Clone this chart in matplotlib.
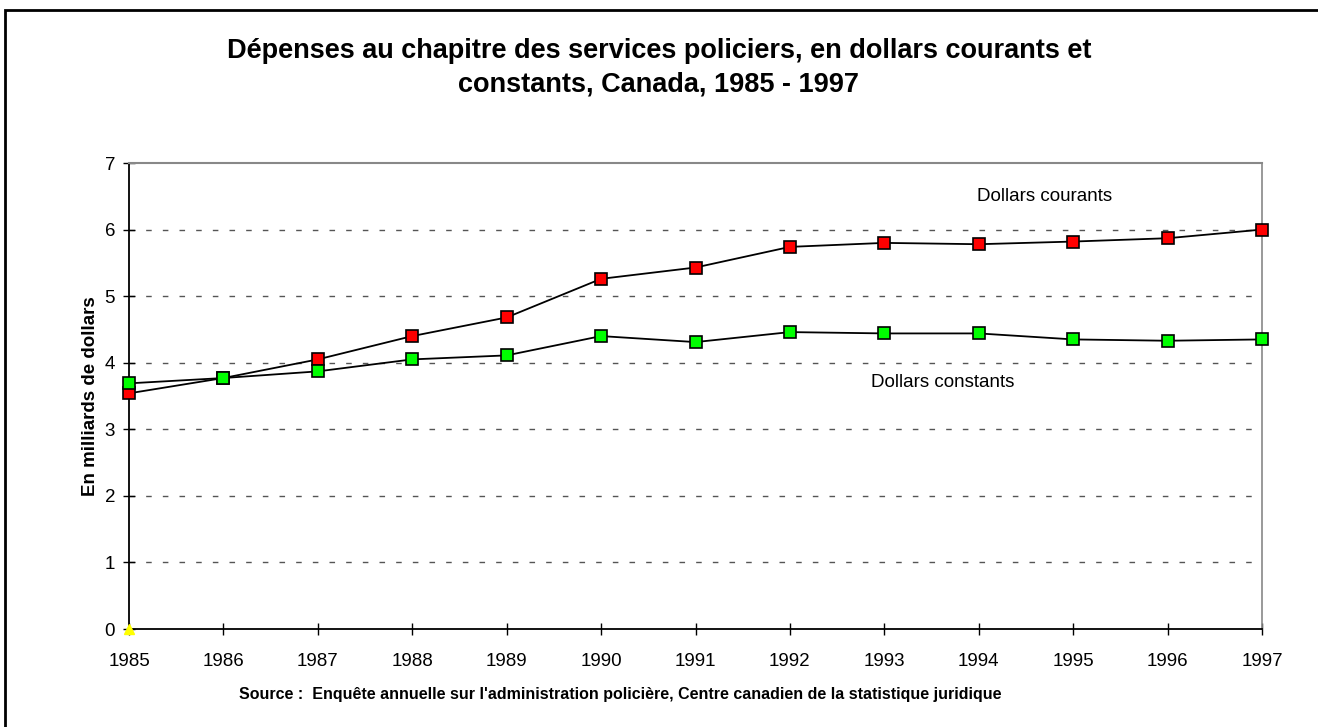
import matplotlib
matplotlib.use('Agg')
import matplotlib.pyplot as plt
from matplotlib.patches import Rectangle

plt.rcParams['font.family'] = ['Liberation Sans', 'DejaVu Sans']

years = [1985, 1986, 1987, 1988, 1989, 1990, 1991, 1992, 1993, 1994, 1995, 1996, 1997]
courants = [3.54, 3.77, 4.05, 4.40, 4.68, 5.26, 5.43, 5.74, 5.80, 5.78, 5.82, 5.87, 6.00]
constants = [3.69, 3.77, 3.87, 4.05, 4.11, 4.40, 4.31, 4.46, 4.44, 4.44, 4.35, 4.33, 4.35]

W, H = 1318, 727
fig = plt.figure(figsize=(W / 100, H / 100), dpi=100)
ax = fig.add_axes([129 / W, 1 - 629 / H, (1262 - 129) / W, (629 - 163) / H])

# outer frame (only left and top show in the original)
fig.patches.append(Rectangle((5 / W, -0.05), 1.2, 1 - 10 / H + 0.05, transform=fig.transFigure,
                             fill=False, edgecolor='black', linewidth=2))

ax.plot(years, courants, color='black', lw=1.3, marker='s', ms=8, clip_on=False,
        markerfacecolor='#ff0000', markeredgecolor='black', markeredgewidth=1.2, zorder=4)
ax.plot(years, constants, color='black', lw=1.3, marker='s', ms=8, clip_on=False,
        markerfacecolor='#00ff00', markeredgecolor='black', markeredgewidth=1.2, zorder=4)
ax.plot([years[0]], [0], marker='^', color='#ffff00', ms=7, clip_on=False, zorder=5)

ax.set_xlim(1985, 1997)
ax.set_ylim(0, 7)
ax.set_xticks(years)
ax.set_yticks(range(8))
ax.tick_params(axis='both', direction='inout', length=8, width=1, labelsize=13.5, pad=6)
ax.tick_params(axis='x', pad=13)
for y in range(1, 7):
    ax.axhline(y, color='#555555', lw=1, ls=(0, (4, 8)), zorder=1)

ax.spines['top'].set_color('#888888')
ax.spines['right'].set_color('#888888')
ax.spines['top'].set_linewidth(1.5)
ax.spines['right'].set_linewidth(1.2)
ax.spines['left'].set_linewidth(1.3)
ax.spines['bottom'].set_linewidth(1.3)

ax.set_ylabel('En milliards de dollars', fontsize=13.5, fontweight='bold', labelpad=4)

ax.text(1994.70, 6.50, 'Dollars courants', fontsize=13.5, ha='center', va='center')
ax.text(1993.62, 3.70, 'Dollars constants', fontsize=13.5, ha='center', va='center')

fig.text(0.5, 1 - 68 / H, 'Dépenses au chapitre des services policiers, en dollars courants et\nconstants, Canada, 1985 - 1997',
         ha='center', va='center', fontsize=19.5, fontweight='bold', linespacing=1.4)
fig.text(620 / W, 1 - 695 / H,
         "Source :  Enquête annuelle sur l'administration policière, Centre canadien de la statistique juridique",
         ha='center', va='center', fontsize=11.5, fontweight='bold')

fig.savefig('out.png', dpi=100)
